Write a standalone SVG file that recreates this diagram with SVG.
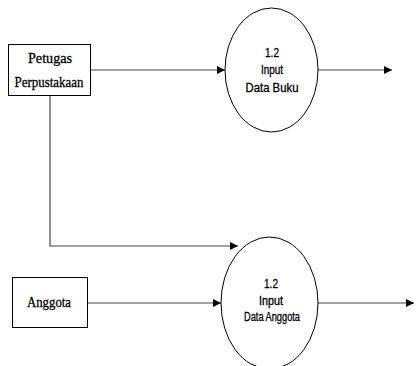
<svg xmlns="http://www.w3.org/2000/svg" width="417" height="366" viewBox="0 0 417 366">
  <style>
    .ent { fill: #fff; stroke: #000; stroke-width: 1; }
    .proc { fill: #fff; stroke: #000; stroke-width: 1; }
    .flow { fill: none; stroke: #444; stroke-width: 1.2; }
    .et { font-family: "Liberation Serif", serif; font-size: 15px; fill: #000; stroke: #000; stroke-width: 0.3; text-anchor: middle; }
    .pt { font-family: "Liberation Sans", sans-serif; font-size: 12px; fill: #000; stroke: #000; stroke-width: 0.3; text-anchor: middle; }
  </style>
  <defs>
    <marker id="arrow" viewBox="0 0 8 8" refX="8" refY="4" markerWidth="8" markerHeight="8" markerUnits="userSpaceOnUse" orient="auto">
      <path d="M0,0 L8,4 L0,8 Z" fill="#000"/>
    </marker>
  </defs>

  <g id="connectors">
    <line class="flow" x1="91" y1="70" x2="225" y2="70" marker-end="url(#arrow)"/>
    <line class="flow" x1="318" y1="70" x2="392" y2="70" marker-end="url(#arrow)"/>
    <polyline class="flow" points="50,95 50,246 238,246" marker-end="url(#arrow)"/>
    <line class="flow" x1="87" y1="303" x2="221" y2="303" marker-end="url(#arrow)"/>
    <line class="flow" x1="318" y1="303" x2="414" y2="303" marker-end="url(#arrow)"/>
  </g>

  <g id="petugas">
    <rect class="ent" x="8.5" y="44.5" width="82" height="51"/>
    <text class="et" x="50" y="63" textLength="44" lengthAdjust="spacingAndGlyphs">Petugas</text>
    <text class="et" x="49" y="87" textLength="69" lengthAdjust="spacingAndGlyphs">Perpustakaan</text>
  </g>

  <g id="anggota">
    <rect class="ent" x="12.5" y="277.5" width="75" height="50"/>
    <text class="et" x="49" y="307" textLength="44" lengthAdjust="spacingAndGlyphs">Anggota</text>
  </g>

  <g id="input-data-buku">
    <ellipse class="proc" cx="271.5" cy="70" rx="46.5" ry="62"/>
    <text class="pt" x="272" y="57" textLength="14" lengthAdjust="spacingAndGlyphs">1.2</text>
    <text class="pt" x="272" y="74" textLength="22" lengthAdjust="spacingAndGlyphs">Input</text>
    <text class="pt" x="272" y="92" textLength="53" lengthAdjust="spacingAndGlyphs">Data  Buku</text>
  </g>

  <g id="input-data-anggota">
    <ellipse class="proc" cx="269.5" cy="303" rx="48.5" ry="66"/>
    <text class="pt" x="271" y="288" textLength="14" lengthAdjust="spacingAndGlyphs">1.2</text>
    <text class="pt" x="271" y="305" textLength="24" lengthAdjust="spacingAndGlyphs">Input</text>
    <text class="pt" x="272" y="321" textLength="56" lengthAdjust="spacingAndGlyphs">Data  Anggota</text>
  </g>
</svg>
